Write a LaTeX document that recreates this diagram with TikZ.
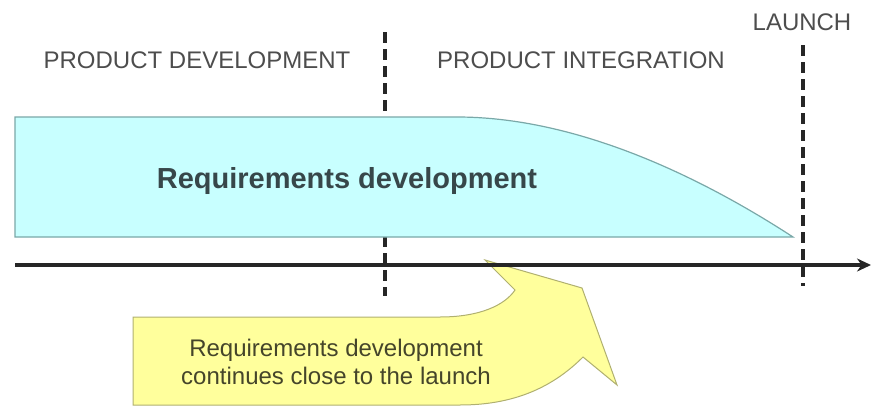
\documentclass[tikz,border=0pt]{standalone}
\usepackage{fontspec}
\setmainfont{Liberation Sans}
\usetikzlibrary{arrows.meta}
\definecolor{lbl}{HTML}{4D4D4D}
\definecolor{bluefill}{HTML}{C8FFFF}
\definecolor{bluedraw}{HTML}{7AA8A8}
\definecolor{yelfill}{HTML}{FFFF9C}
\definecolor{yeldraw}{HTML}{B0B070}
\definecolor{bluetext}{HTML}{37474A}
\definecolor{yeltext}{HTML}{45452A}
\tikzset{
  phase/.style={text=lbl, font=\fontsize{24}{28}\selectfont, inner sep=0pt},
  divider/.style={line width=3.4pt, color=black!85, dash pattern=on 11pt off 6pt},
  axisline/.style={line width=4pt, color=black!85, -{Stealth[length=14pt,width=13pt]}},
}
\begin{document}
\begin{tikzpicture}[x=1pt,y=-1pt]
\useasboundingbox (0,0) rectangle (871,407);
% labels
\node[phase] (pd) at (197,60) {PRODUCT DEVELOPMENT};
\node[phase] (pi) at (581,60) {PRODUCT INTEGRATION};
\node[phase] (la) at (802,22) {LAUNCH};
% dividers
\coordinate (d1t) at (385,32);
\coordinate (d1b) at (385,296);
\coordinate (d2t) at (803,45);
\coordinate (d2b) at (803,286);
\draw[divider] (d1t) -- (d1b);
\draw[divider] (d2t) -- (d2b);
% requirements shape
\draw[fill=bluefill, draw=bluedraw, line width=1.2pt]
  (15,117) -- (457,117) .. controls (570,117) and (690,170) .. (793,237) -- (15,237) -- cycle;
\node[font=\bfseries\fontsize{29}{33}\selectfont, text=bluetext] (rd) at (347,181) {Requirements development};
% yellow curved arrow
\draw[fill=yelfill, draw=yeldraw, line width=1pt]
  (485,260) -- (582,288) -- (617,385) -- (583,357)
  .. controls (550,390) and (510,405) .. (460,405)
  -- (133,405) -- (133,317) -- (440,317)
  .. controls (480,317) and (505,305) .. (515,290) -- cycle;
\node[align=center, text=yeltext, font=\fontsize{24}{28}\selectfont] (note) at (336,362) {Requirements development\\continues close to the launch};
% axis
\coordinate (a0) at (15,265);
\coordinate (a1) at (871,265);
\draw[axisline] (a0) -- (a1);
\end{tikzpicture}
\end{document}
